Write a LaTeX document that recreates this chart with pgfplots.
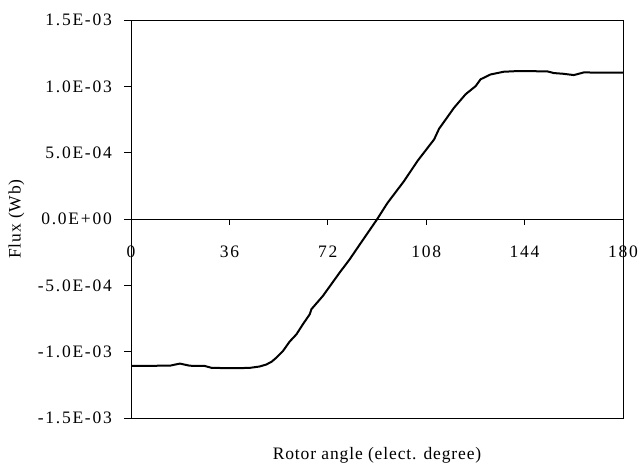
\documentclass[border=0pt]{standalone}
\usepackage{pgfplots}
\pgfplotsset{compat=1.18}
\usepackage{fontspec}
\setmainfont{Liberation Serif}[LetterSpace=5]

\pgfplotstableread{
x y
0 -1.108e-3
5 -1.108e-3
10 -1.106e-3
14.2 -1.106e-3
16 -1.098e-3
17.9 -1.090e-3
19.7 -1.098e-3
21.5 -1.106e-3
27 -1.108e-3
29.5 -1.122e-3
35 -1.124e-3
40 -1.124e-3
43.5 -1.122e-3
47 -1.112e-3
49.5 -1.097e-3
51.5 -1.075e-3
53.2 -1.045e-3
55.6 -0.995e-3
58 -0.925e-3
60.5 -0.870e-3
63 -0.790e-3
65.4 -0.718e-3
66 -0.680e-3
70.2 -0.580e-3
76.3 -0.405e-3
80 -0.304e-3
84.1 -0.180e-3
86.1 -0.120e-3
90.1 0.000e-3
93.8 0.120e-3
99.9 0.286e-3
104.8 0.437e-3
110.9 0.600e-3
111.8 0.640e-3
112.7 0.680e-3
118.2 0.839e-3
122.4 0.940e-3
126.1 1.002e-3
127.9 1.053e-3
131.6 1.090e-3
136.4 1.110e-3
141.3 1.115e-3
152.3 1.113e-3
154.7 1.100e-3
158 1.095e-3
162 1.085e-3
165.7 1.105e-3
172 1.103e-3
180 1.103e-3
}\fluxdata

\begin{document}
\fontsize{17.5}{21}\selectfont
\begin{tikzpicture}
\begin{axis}[
    name=main,
    scale only axis,
    width=492pt, height=398pt,
    xmin=0, xmax=180,
    ymin=-1.5e-3, ymax=1.5e-3,
    axis line style={line width=0.9pt},
    xtick=\empty,
    ytick={-1.5e-3,-1e-3,-5e-4,0,5e-4,1e-3,1.5e-3},
    yticklabels={-1.5E-03,-1.0E-03,-5.0E-04,0.0E+00,5.0E-04,1.0E-03,1.5E-03},
    ytick pos=left,
    tick align=outside,
    major tick length=7pt,
    tick style={line width=0.8pt, black},
    yticklabel style={inner sep=0pt, anchor=east, xshift=-12pt,
        font=\addfontfeatures{LetterSpace=10}},
    ylabel={Flux (Wb)},
    ylabel style={at={(rel axis cs:-0.2327,0.5)}, anchor=center, rotate=0},
    xlabel={Rotor angle (elect. degree)},
    xlabel style={at={(rel axis cs:0.5,0)}, anchor=north, inner sep=0pt, yshift=-29pt},
    scaled y ticks=false,
]
\addplot[black, line width=2pt] table[x=x, y=y] {\fluxdata};
\coordinate (bl) at (rel axis cs:-0.2663,-0.1206);
\coordinate (tr) at (rel axis cs:1.0305,1.0503);
\end{axis}
\begin{axis}[
    at={(main.south west)}, anchor=south west,
    scale only axis,
    width=492pt, height=398pt,
    xmin=0, xmax=180,
    ymin=-1.5e-3, ymax=1.5e-3,
    axis x line=middle,
    axis y line=none,
    x axis line style={-, line width=0.8pt},
    xtick={0,36,72,108,144,180},
    xticklabels={0,36,72,108,144,180},
    tick align=outside,
    major tick length=6pt,
    tick style={line width=0.8pt, black},
    xticklabel style={inner sep=0pt, anchor=north, yshift=-21pt,
        font=\addfontfeatures{LetterSpace=10}},
]
\end{axis}
\pgfresetboundingbox
\path[use as bounding box] (bl) rectangle (tr);
\end{tikzpicture}
\end{document}
